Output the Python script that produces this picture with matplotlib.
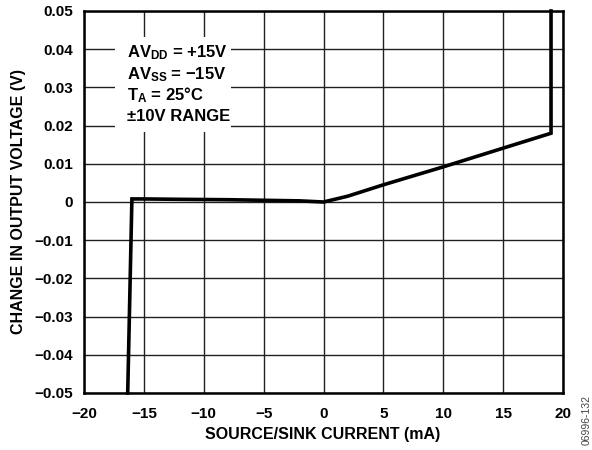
import matplotlib
matplotlib.use("Agg")
import matplotlib.pyplot as plt
from matplotlib.patches import Rectangle

plt.rcParams['font.family'] = ['Liberation Sans', 'DejaVu Sans']
plt.rcParams['font.weight'] = 'bold'
plt.rcParams['mathtext.fontset'] = 'custom'
plt.rcParams['mathtext.rm'] = 'Liberation Sans:bold'
plt.rcParams['mathtext.it'] = 'Liberation Sans:bold'
plt.rcParams['mathtext.bf'] = 'Liberation Sans:bold'

current_ma = [-16.35, -16.0, -15.0, -12.0, -8.0, -4.0, -2.0, 0.0, 2.0, 5.0, 10.0, 15.0, 19.0, 19.0]
delta_v = [-0.05, 0.0008, 0.0008, 0.0007, 0.0006, 0.0004, 0.0003, 0.0, 0.0015, 0.0045, 0.0092, 0.0141, 0.018, 0.05]

x_ticks = [-20, -15, -10, -5, 0, 5, 10, 15, 20]
y_ticks = [-0.05, -0.04, -0.03, -0.02, -0.01, 0, 0.01, 0.02, 0.03, 0.04, 0.05]
y_labels = ['−0.05', '−0.04', '−0.03', '−0.02', '−0.01', '0', '0.01', '0.02', '0.03', '0.04', '0.05']
x_labels = ['−20', '−15', '−10', '−5', '0', '5', '10', '15', '20']
note_lines = ['AV$_{\\mathrm{DD}}$ = +15V', 'AV$_{\\mathrm{SS}}$ = −15V', 'T$_{\\mathrm{A}}$ = 25°C', '±10V RANGE']

W, H = 592, 450
fig = plt.figure(figsize=(5.92, 4.5), dpi=100)
ax = fig.add_axes([84/W, 1-393/H, (563-84)/W, (393-11)/H])

ax.plot(current_ma, delta_v, color='black', lw=2.6, solid_joinstyle='miter', zorder=4, clip_on=False)
ax.set_xlim(-20, 20)
ax.set_ylim(-0.05, 0.05)
ax.set_xticks(x_ticks)
ax.set_xticklabels(x_labels)
ax.set_yticks(y_ticks)
ax.set_yticklabels(y_labels)
ax.tick_params(length=0, labelsize=11)
ax.tick_params(axis='x', pad=10)
ax.tick_params(axis='y', pad=8)
for lab in ax.get_xticklabels() + ax.get_yticklabels():
    lab.set_fontweight('bold')
ax.grid(True, color='#202020', lw=1.0)
ax.set_axisbelow(True)
for s in ax.spines.values():
    s.set_linewidth(1.8)
    s.set_zorder(5)

ax.set_xlabel('SOURCE/SINK CURRENT (mA)', fontsize=11.5, fontweight='bold')
ax.set_ylabel('CHANGE IN OUTPUT VOLTAGE (V)', fontsize=11.5, fontweight='bold')
ax.xaxis.set_label_coords(0.498, (393-427)/382)
ax.yaxis.set_label_coords((26-84)/479, 0.5)

# white note box
fig.patches.append(Rectangle((115/W, 1-132/H), (231-115)/W, (132-37)/H,
                             transform=fig.transFigure, facecolor='white', edgecolor='none', zorder=2))
baselines = [57, 79, 100, 121]
for line, yb in zip(note_lines, baselines):
    fig.text(127/W, 1-yb/H, line, fontsize=12, fontweight='bold', ha='left', va='baseline', zorder=3)

fig.text(587/W, 1-420/H, '06996-132', rotation=90, fontsize=7.5, color='#444444',
         ha='center', va='center', fontweight='normal')

fig.savefig('out.png', dpi=100)
